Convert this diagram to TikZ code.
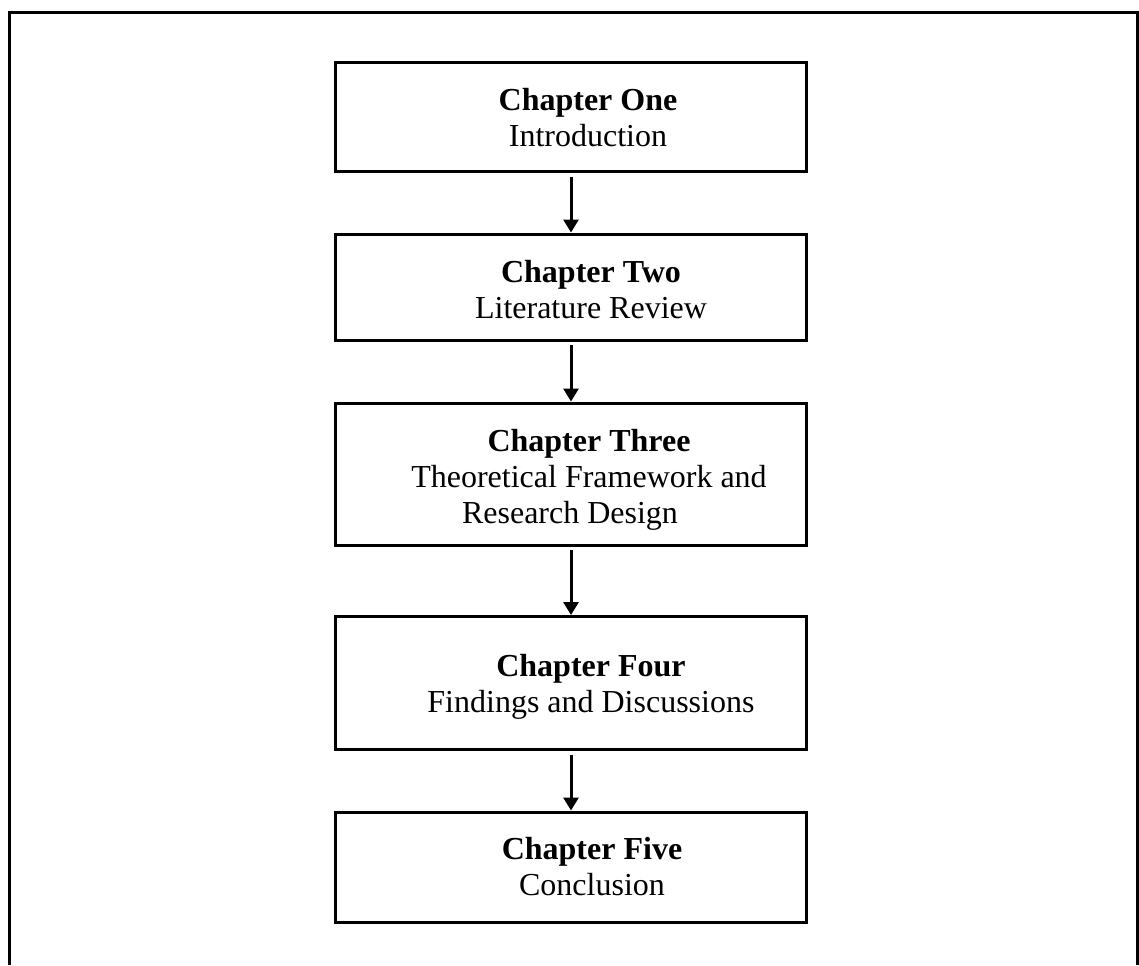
\documentclass[tikz,border=0pt]{standalone}
\usepackage{fontspec}
\setmainfont{Liberation Serif}
\usetikzlibrary{arrows.meta}

\begin{document}
\begin{tikzpicture}[x=0.5pt,y=-0.5pt,
        chapterbox/.style={draw,line width=1.5pt,minimum width=235.5pt,inner sep=0pt},
        chaptertext/.style={font=\fontsize{16}{18}\selectfont,align=center,inner sep=0pt},
        flow/.style={line width=1.5pt,-{Triangle[width=7.5pt,length=6.5pt]}}]
        \useasboundingbox (0,0) rectangle (1139,965);
        \draw[line width=1.5pt] (9.5,965) -- (9.5,12.5) -- (1137.5,12.5) -- (1137.5,965);

        \node[chapterbox,minimum height=54.5pt] (ch1) at (571,117) {};
        \node[chapterbox,minimum height=53pt] (ch2) at (571,287) {};
        \node[chapterbox,minimum height=71pt] (ch3) at (571,474) {};
        \node[chapterbox,minimum height=66.5pt] (ch4) at (571,683) {};
        \node[chapterbox,minimum height=55pt] (ch5) at (571,867) {};

        \node[chaptertext] (t1) at ([xshift=8.5pt,yshift=-0.25pt]ch1.center) {\textbf{Chapter One}\\Introduction};
        \node[chaptertext] (t2) at ([xshift=10pt,yshift=-1.25pt]ch2.center) {\textbf{Chapter Two}\\Literature Review};
        \node[chaptertext] (t3) at ([xshift=9pt,yshift=-3pt]ch3.center) {\textbf{Chapter Three}\\Theoretical Framework and\\Research Design\hspace*{19pt}};
        \node[chaptertext] (t4) at ([xshift=10pt,yshift=-1.75pt]ch4.center) {\textbf{Chapter Four}\\Findings and Discussions};
        \node[chaptertext] (t5) at ([xshift=10.5pt]ch5.center) {\textbf{Chapter Five}\\Conclusion};

        \draw[flow] ([yshift=-1.75pt]ch1.south) -- (ch2.north);
        \draw[flow] ([yshift=-1.75pt]ch2.south) -- (ch3.north);
        \draw[flow] ([yshift=-1.75pt]ch3.south) -- (ch4.north);
        \draw[flow] ([yshift=-1.75pt]ch4.south) -- (ch5.north);
\end{tikzpicture}
\end{document}
